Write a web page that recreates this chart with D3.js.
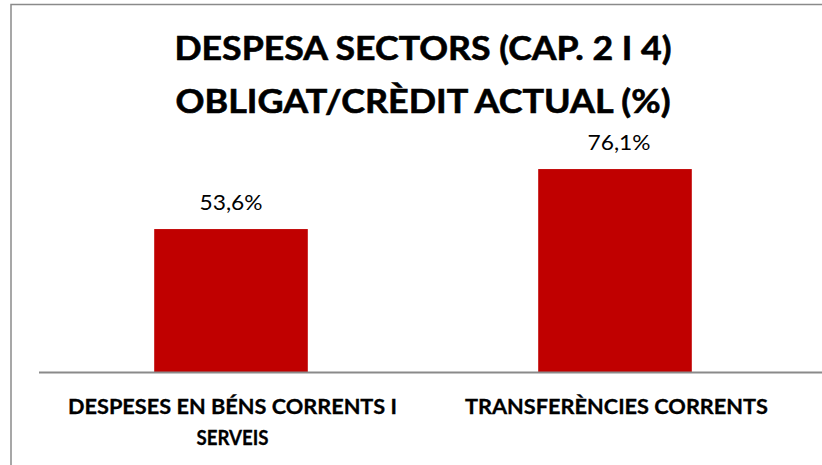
<!DOCTYPE html>
<html>
<head>
<meta charset="utf-8">
<script src="https://cdn.jsdelivr.net/npm/d3@7"></script>
<style>
  body { margin: 0; background: #fff; }
  svg { display: block; font-family: Lato, "Open Sans", sans-serif; }
  .axis path, .axis line { display: none; }
</style>
</head>
<body>
<div id="chart"></div>
<script>
// Dades del gràfic
var categories = ["DESPESES EN BÉNS CORRENTS I SERVEIS", "TRANSFERÈNCIES CORRENTS"];
var values = [53.6, 76.1];
var titleLines = ["DESPESA SECTORS (CAP. 2 I 4)", "OBLIGAT/CRÈDIT ACTUAL (%)"];
var catLines = [["DESPESES EN BÉNS CORRENTS I", "SERVEIS"], ["TRANSFERÈNCIES CORRENTS"]];

var W = 822, H = 465;
var svg = d3.select("#chart").append("svg")
    .attr("width", W)
    .attr("height", H);

// marc del gràfic (retallat per la dreta i per baix)
svg.append("path")
    .attr("d", "M11,470 L11,4.5 L830,4.5")
    .attr("fill", "none")
    .attr("stroke", "#8a8a8a")
    .attr("stroke-width", 1.5);

// títol en dues línies
var titleW = [497, 495];
svg.append("g").selectAll("text")
    .data(titleLines)
  .enter().append("text")
    .attr("x", 423)
    .attr("y", function(d, i) { return 60 + i * 53; })
    .attr("text-anchor", "middle")
    .attr("font-size", 33)
    .attr("font-weight", "bold")
    .attr("fill", "#000")
    .attr("stroke", "#000")
    .attr("stroke-width", 0.6)
    .attr("textLength", function(d, i) { return titleW[i]; })
    .attr("lengthAdjust", "spacingAndGlyphs")
    .text(function(d) { return d; });

// escales
var x = d3.scaleBand()
    .domain(categories)
    .range([39, 807])
    .paddingInner(0.6)
    .paddingOuter(0.3);

var y = d3.scaleLinear()
    .domain([0, 90])
    .range([372, 132]);

// barres
svg.selectAll(".bar")
    .data(values)
  .enter().append("rect")
    .attr("class", "bar")
    .attr("x", function(d, i) { return x(categories[i]); })
    .attr("y", function(d) { return y(d); })
    .attr("width", x.bandwidth())
    .attr("height", function(d) { return y(0) - y(d); })
    .attr("fill", "#c00000");

// etiquetes de valor
svg.selectAll(".val")
    .data(values)
  .enter().append("text")
    .attr("class", "val")
    .attr("x", function(d, i) { return x(categories[i]) + x.bandwidth() / 2 + (i ? 4 : 0); })
    .attr("y", function(d) { return y(d) - 19; })
    .attr("text-anchor", "middle")
    .attr("font-size", 21)
    .attr("fill", "#000")
    .attr("textLength", 63)
    .attr("lengthAdjust", "spacingAndGlyphs")
    .text(function(d) { return d3.format(".1f")(d).replace(".", ",") + "%"; });

// línia base
svg.append("line")
    .attr("x1", 39).attr("x2", W)
    .attr("y1", y(0) + 0.5).attr("y2", y(0) + 0.5)
    .attr("stroke", "#8a8a8a")
    .attr("stroke-width", 2);

// eix x amb etiquetes en negreta (ajustades a dues línies)
var xAxis = d3.axisBottom(x).tickSize(0).tickPadding(0);
var gx = svg.append("g")
    .attr("class", "axis x")
    .attr("transform", "translate(0," + y(0) + ")")
    .call(xAxis);

var lineW = {"DESPESES EN BÉNS CORRENTS I": 329, "SERVEIS": 72, "TRANSFERÈNCIES CORRENTS": 303};
gx.selectAll(".tick text").each(function(d, i) {
  var t = d3.select(this).text(null)
      .attr("y", 0).attr("dy", null)
      .attr("font-size", 21)
      .attr("font-weight", "bold")
      .attr("font-family", "Lato, 'Open Sans', sans-serif")
      .attr("fill", "#000")
      .attr("stroke", "#000")
      .attr("stroke-width", 0.3);
  catLines[i].forEach(function(s, j) {
    t.append("tspan")
      .attr("x", 1.5)
      .attr("y", 42 + j * 31)
      .attr("textLength", lineW[s])
      .attr("lengthAdjust", "spacingAndGlyphs")
      .text(s);
  });
});
</script>
</body>
</html>
